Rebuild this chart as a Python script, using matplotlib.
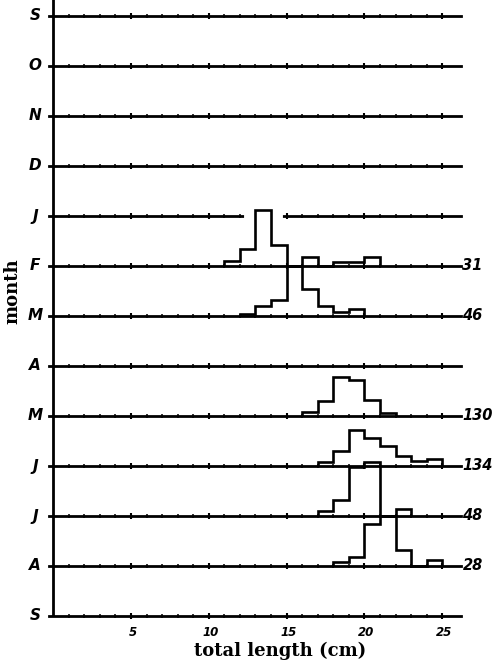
import numpy as np
from matplotlib import pyplot as plt

# months from top to bottom
months = ['S', 'O', 'N', 'D', 'J', 'F', 'M', 'A', 'M', 'J', 'J', 'A', 'S']

# length-frequency histograms (% per 1 cm class)
# first lower class limit (cm), then percentages
feb_start = 11
feb_pct = [4, 14, 45, 17, 0, 7, 0, 3, 3, 7]
mar_start = 12
mar_pct = [2, 8, 13, 40, 22, 8, 3, 6]
may_start = 16
may_pct = [3.5, 12, 31.5, 29, 12.5, 2.7]
jun_start = 17
jun_pct = [3, 12, 29, 22.5, 16, 8, 4, 5.3]
jul_start = 17
jul_pct = [4, 12.5, 39, 43, 0, 5.4]
aug_start = 18
aug_pct = [3, 7, 33.5, 40, 12.5, 0, 4.5]

hist_rows = [5, 6, 8, 9, 10, 11]   # row index from top
hist_starts = [feb_start, mar_start, may_start, jun_start, jul_start, aug_start]
hist_pcts = [feb_pct, mar_pct, may_pct, jun_pct, jul_pct, aug_pct]
counts = ['31', '46', '130', '134', '48', '28']

x_ticks = [5, 10, 15, 20, 25]

#==============================================================================
#                              Plot Graph
#==============================================================================
W, H = 500, 667
x0px, cmpx = 53.2, 15.56     # pixel of 0 cm, pixels per cm
ybot, rowpx = 616, 50        # pixel of bottom baseline, pixels per row
pct_unit = 1.0 / 40          # 40 % = one row spacing

fig = plt.figure(figsize=(W / 100, H / 100), dpi=100)
ax = fig.add_axes([0, 0, 1, 1])
ax.set_xlim(-x0px / cmpx, (W - x0px) / cmpx)
ax.set_ylim(-(H - ybot) / rowpx, ybot / rowpx)
ax.axis('off')

nrows = len(months)
def row_y(i):
    return nrows - 1 - i

lw = 2.0
xend = 26.2
num_font = ['DejaVu Sans']

# left axis
ax.plot([0, 0], [0, ybot / rowpx + 0.1], color='black', lw=lw, solid_capstyle='butt')

# baselines with small ticks
minor = np.arange(1, 26)
for i, m in enumerate(months):
    y = row_y(i)
    ax.plot([-0.25, xend], [y, y], color='black', lw=lw, zorder=2)
    ax.plot(minor, np.full(len(minor), y), ls='none', marker='|', ms=3,
            mew=1.1, color='black', zorder=2)
    ax.plot(x_ticks, np.full(len(x_ticks), y), ls='none', marker='|', ms=5,
            mew=1.5, color='black', zorder=2)
    ax.text(-1.17, y, m, ha='center', va='center', fontsize=11,
            fontweight='bold', fontstyle='italic', family=num_font)

# histograms
for r, s, p, c in zip(hist_rows, hist_starts, hist_pcts, counts):
    y = row_y(r)
    edges = np.arange(s, s + len(p) + 1)
    vals = y + np.array(p) * pct_unit
    # pen lifted where a bar runs through the row above
    for k, v in enumerate(vals):
        if v - y > 1.1:
            ax.plot([edges[k] - 0.6, edges[k + 1] + 0.6], [y + 1, y + 1],
                    color='white', lw=lw + 1.5, zorder=3)
    ax.stairs(vals, edges, baseline=y, color='black', lw=1.9, zorder=4)
    ax.text(xend + 0.1, y, c, ha='left', va='center', fontsize=10.5,
            fontweight='bold', fontstyle='italic', family=num_font)

for t in x_ticks:
    ax.text(t + 0.1, -0.34, str(t), ha='center', va='center', fontsize=8.5,
            fontweight='bold', fontstyle='italic', family=num_font)

ax.text(14.58, -0.69, 'total length (cm)', ha='center', va='center',
        fontsize=13, fontweight='bold', family='DejaVu Serif')
ax.text(-2.6, 6.5, 'month', ha='center', va='center', rotation=90,
        fontsize=13, fontweight='bold', family='DejaVu Serif')

plt.savefig('out.png', dpi=100)
